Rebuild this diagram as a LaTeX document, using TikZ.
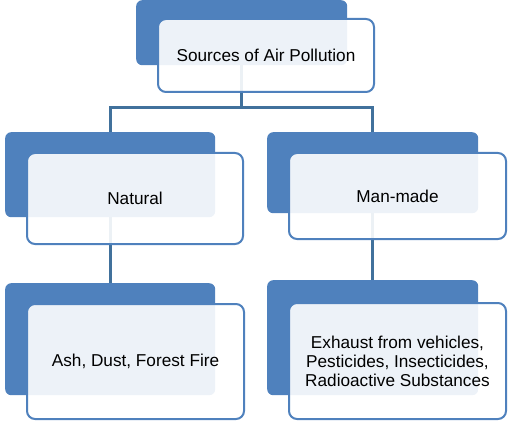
\documentclass[tikz,border=0pt]{standalone}
\usepackage{fontspec}
\setmainfont{Liberation Sans}
\definecolor{dkblue}{HTML}{4F81BD}
\definecolor{connblue}{HTML}{41719C}
\begin{document}
\begin{tikzpicture}[x=1pt,y=-1pt,
  darkbox/.style={fill=dkblue, rounded corners=6pt, inner sep=0pt, anchor=north west},
  lightbox/.style={fill=white, fill opacity=0.9, text opacity=1, draw=dkblue, draw opacity=1,
    line width=2pt, rounded corners=8pt, inner sep=0pt, anchor=north west, align=center,
    font=\fontsize{17.2}{19}\selectfont},
  conn/.style={draw=connblue, line width=3pt}]
\useasboundingbox (0,0) rectangle (514,425);
% dark boxes
\node[darkbox, minimum width=211pt, minimum height=65pt] (tD) at (136,0) {};
\node[darkbox, minimum width=210pt, minimum height=85pt] (nD) at (5,132) {};
\node[darkbox, minimum width=211pt, minimum height=81pt] (mD) at (267,132) {};
\node[darkbox, minimum width=210pt, minimum height=112pt] (aD) at (5,283) {};
\node[darkbox, minimum width=211pt, minimum height=115pt] (eD) at (267,280) {};
% connectors
\coordinate (hb) at (0,108);
\draw[conn] (tD.south) -- (tD.south |- hb) -| (nD.north);
\draw[conn] (tD.south |- hb) -| (mD.north);
\draw[conn] (nD.south) -- (aD.north);
\draw[conn] (mD.south) -- (eD.north);
% light boxes
\node[lightbox, minimum width=216pt, minimum height=73pt] (tL) at (157,18) {Sources of Air Pollution};
\node[lightbox, minimum width=216pt, minimum height=91pt] (nL) at (26,152) {Natural};
\node[lightbox, minimum width=217pt, minimum height=86pt] (mL) at (288,152) {Man-made};
\node[lightbox, minimum width=217pt, minimum height=115pt] (aL) at (26,303) {Ash, Dust, Forest Fire};
\node[lightbox, minimum width=217pt, minimum height=116pt] (eL) at (288,302) {Exhaust from vehicles,\\Pesticides, Insecticides,\\Radioactive Substances};
\end{tikzpicture}
\end{document}
